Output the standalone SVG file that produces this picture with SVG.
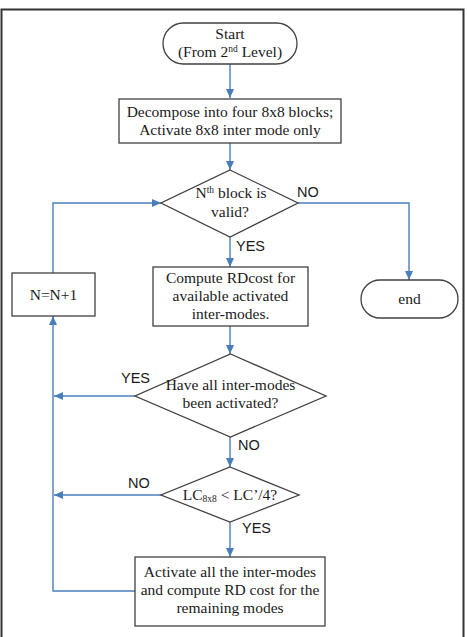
<svg xmlns="http://www.w3.org/2000/svg" width="467" height="637" viewBox="0 0 467 637">
<style>
.s{fill:#fff;stroke:#404040;stroke-width:1.3}
.t{font-family:"Liberation Serif","Times New Roman",serif;font-size:15.5px;fill:#1a1a1a;text-anchor:middle}
.l{font-family:"Liberation Sans",Arial,sans-serif;font-size:14.5px;fill:#1a1a1a}
.c{fill:none;stroke:#4a7ebb;stroke-width:1.4}
</style>
<defs>
<marker id="a" markerWidth="10" markerHeight="8" refX="9" refY="4" orient="auto" markerUnits="userSpaceOnUse">
<path d="M0,0 L9,4 L0,8 z" fill="#4a7ebb"/>
</marker>
</defs>
<rect width="467" height="637" fill="#fff"/>
<path d="M1.5,637 V9.5 H463.5 V637" fill="none" stroke="#333" stroke-width="2"/>
<g id="connectors">
<path class="c" d="M230,64 V98" marker-end="url(#a)"/>
<path class="c" d="M230,143 V170" marker-end="url(#a)"/>
<path class="c" d="M230,237 V267" marker-end="url(#a)"/>
<path class="c" d="M298,203 H409 V280" marker-end="url(#a)"/>
<path class="c" d="M53,273 V203 H161" marker-end="url(#a)"/>
<path class="c" d="M230,326 V354" marker-end="url(#a)"/>
<path class="c" d="M135,396 H54" marker-end="url(#a)"/>
<path class="c" d="M230,437 V467" marker-end="url(#a)"/>
<path class="c" d="M161,495 H54" marker-end="url(#a)"/>
<path class="c" d="M230,522 V557" marker-end="url(#a)"/>
<path class="c" d="M135,591 H53 V316" marker-end="url(#a)"/>
<text class="l" x="297" y="197">NO</text>
<text class="l" x="236" y="251">YES</text>
<text class="l" x="121" y="383">YES</text>
<text class="l" x="238" y="450">NO</text>
<text class="l" x="128" y="488">NO</text>
<text class="l" x="242" y="533">YES</text>
</g>
<g id="start">
<rect class="s" x="163" y="23" width="134" height="41" rx="20.5"/>
<text class="t" x="230" y="39">Start</text>
<text class="t" x="230" y="57">(From 2<tspan font-size="9.5" dy="-5">nd</tspan><tspan dy="5"> Level)</tspan></text>
</g>
<g id="decompose">
<rect class="s" x="119" y="99" width="222" height="44"/>
<text class="t" x="230" y="117">Decompose into four 8x8 blocks;</text>
<text class="t" x="230" y="135">Activate 8x8 inter mode only</text>
</g>
<g id="valid">
<path class="s" d="M230,170 L298,203 L230,237 L161,203 z"/>
<text class="t" x="231" y="198">N<tspan font-size="9.5" dy="-5">th</tspan><tspan dy="5"> block is</tspan></text>
<text class="t" x="230" y="217">valid?</text>
</g>
<g id="end">
<rect class="s" x="361" y="280" width="97" height="38" rx="19"/>
<text class="t" x="409.5" y="304">end</text>
</g>
<g id="compute">
<rect class="s" x="153" y="267" width="155" height="59"/>
<text class="t" x="230.5" y="283">Compute RDcost for</text>
<text class="t" x="230.5" y="301">available activated</text>
<text class="t" x="230.5" y="319">inter-modes.</text>
</g>
<g id="increment">
<rect class="s" x="12" y="273" width="83" height="43"/>
<text class="t" x="53.5" y="300">N=N+1</text>
</g>
<g id="allactivated">
<path class="s" d="M230.5,354 L326,396 L230.5,437 L135,396 z"/>
<text class="t" x="230.5" y="390">Have all inter-modes</text>
<text class="t" x="230.5" y="408">been activated?</text>
</g>
<g id="lc">
<path class="s" d="M230,467 L299,495 L230,522 L161,495 z"/>
<text class="t" x="230" y="500">LC<tspan font-size="9.5" dy="2">8x8</tspan><tspan dy="-2"> &lt; LC’/4?</tspan></text>
</g>
<g id="activateall">
<rect class="s" x="135" y="557" width="190" height="69"/>
<text class="t" x="230" y="577">Activate all the inter-modes</text>
<text class="t" x="230" y="595">and compute RD cost for the</text>
<text class="t" x="230" y="613">remaining modes</text>
</g>
</svg>
